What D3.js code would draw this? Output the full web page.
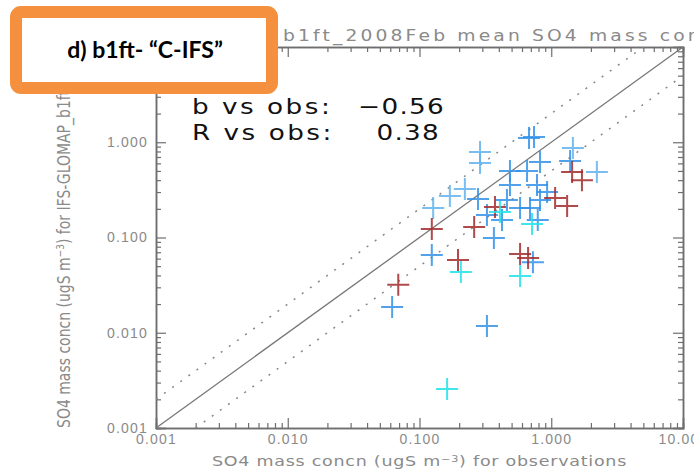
<!DOCTYPE html>
<html>
<head>
<meta charset="utf-8">
<script src="https://cdn.jsdelivr.net/npm/d3@7"></script>
<style>
  html, body { margin: 0; padding: 0; background: #fff; overflow: hidden; }
  svg { display: block; }
</style>
</head>
<body>
<div id="chart"></div>
<script>
const width = 694
const height = 473
const margin = ({ top: 47, right: 11, bottom: 45, left: 156 })

// decade ticks and labels
const majorTicks = [0.001, 0.01, 0.1, 1, 10]
const tickLabels = ['0.001', '0.010', '0.100', '1.000', '10.000']

// stats printed in the corner
const statNames = ['b vs obs:', 'R vs obs:']
const statValues = ['\u22120.56', '0.38']

// points: observed SO4 (x) vs modelled (y), ugS m-3
const redObs = [0.069, 0.124, 0.26, 0.374, 0.196, 0.58, 0.667, 1.07, 1.32, 1.44, 1.71]
const redMod = [0.032, 0.123, 0.129, 0.209, 0.058, 0.067, 0.061, 0.26, 0.214, 0.488, 0.40]

const blueObs = [0.062, 0.124, 0.325, 0.278, 0.325, 0.367, 0.423, 0.461, 0.486, 0.486, 0.58, 0.655,
  0.678, 0.74, 0.69, 0.78, 0.822, 0.822, 0.93, 0.79, 0.726, 1.39]
const blueMod = [0.0186, 0.0655, 0.0118, 0.254, 0.172, 0.099, 0.153, 0.248, 0.499, 0.356, 0.204, 0.499,
  1.11, 1.135, 0.204, 0.356, 0.621, 0.248, 0.30, 0.153, 0.055, 0.635]

const lightObs = [0.127, 0.17, 0.221, 0.288, 0.288, 1.46, 2.22]
const lightMod = [0.204, 0.273, 0.323, 0.791, 0.605, 0.871, 0.488]

const cyanObs = [0.162, 0.206, 0.58, 0.715, 0.408]
const cyanMod = [0.00256, 0.0435, 0.0395, 0.139, 0.185]

const series = [
  { name: 'light', obs: lightObs, mod: lightMod, color: '#62b2ee' },
  { name: 'blue', obs: blueObs, mod: blueMod, color: '#3392e8' },
  { name: 'red', obs: redObs, mod: redMod, color: '#a32a2c' },
  { name: 'cyan', obs: cyanObs, mod: cyanMod, color: '#20e2ea' }
]

const axisGray = '#6e6e6e'
const textGray = '#8a8a8a'
// the original figure is stretched sideways, so horizontal text is too
const stretch = 1.25

let xScale = d3.scaleLog()
  .domain([0.001, 10])
  .range([margin.left, width - margin.right])

let yScale = d3.scaleLog()
  .domain([0.001, 10])
  .range([height - margin.bottom, margin.top])

// minor ticks 2..9 in every decade
let minorTicks = []
majorTicks.slice(0, -1).forEach(m => {
  for (let k = 2; k <= 9; k++) minorTicks.push(m * k)
})

const svg = d3.select('#chart').append('svg')
  .attr('width', width)
  .attr('height', height)
  .style('font-family', 'DejaVu Sans, sans-serif')

const fmt = d => tickLabels[majorTicks.indexOf(d)]

function styleAxis(g) {
  g.select('.domain').attr('stroke', axisGray).attr('stroke-width', 1.5)
  g.selectAll('.tick line').attr('stroke', axisGray).attr('stroke-width', 1.2)
  g.selectAll('.tick text')
    .attr('fill', textGray)
    .style('font-size', '14px')
    .style('letter-spacing', '1.2px')
}

// bottom
svg.append('g')
  .attr('transform', 'translate(0,' + (height - margin.bottom) + ')')
  .call(d3.axisBottom(xScale).tickValues(majorTicks).tickSize(-10).tickPadding(6).tickFormat(fmt))
  .call(styleAxis)
svg.append('g')
  .attr('transform', 'translate(0,' + (height - margin.bottom) + ')')
  .call(d3.axisBottom(xScale).tickValues(minorTicks).tickSize(-5).tickFormat(''))
  .call(styleAxis)

// top
svg.append('g')
  .attr('transform', 'translate(0,' + margin.top + ')')
  .call(d3.axisTop(xScale).tickValues(majorTicks).tickSize(-10).tickFormat(''))
  .call(styleAxis)
svg.append('g')
  .attr('transform', 'translate(0,' + margin.top + ')')
  .call(d3.axisTop(xScale).tickValues(minorTicks).tickSize(-5).tickFormat(''))
  .call(styleAxis)

// left
svg.append('g')
  .attr('transform', 'translate(' + margin.left + ',0)')
  .call(d3.axisLeft(yScale).tickValues(majorTicks).tickSize(-10).tickPadding(8).tickFormat(fmt))
  .call(styleAxis)
svg.append('g')
  .attr('transform', 'translate(' + margin.left + ',0)')
  .call(d3.axisLeft(yScale).tickValues(minorTicks).tickSize(-5).tickFormat(''))
  .call(styleAxis)

// right
svg.append('g')
  .attr('transform', 'translate(' + (width - margin.right) + ',0)')
  .call(d3.axisRight(yScale).tickValues(majorTicks).tickSize(-10).tickFormat(''))
  .call(styleAxis)
svg.append('g')
  .attr('transform', 'translate(' + (width - margin.right) + ',0)')
  .call(d3.axisRight(yScale).tickValues(minorTicks).tickSize(-5).tickFormat(''))
  .call(styleAxis)

// 1:1 and factor-of-2 lines
const lineGen = d3.line().x(d => xScale(d[0])).y(d => yScale(d[1]))
svg.append('path')
  .attr('d', lineGen([[0.001, 0.001], [10, 10]]))
  .attr('stroke', '#777').attr('stroke-width', 1.3).attr('fill', 'none')
svg.append('path')
  .attr('d', lineGen([[0.001, 0.002], [5, 10]]))
  .attr('stroke', '#888').attr('stroke-width', 1.5).attr('stroke-dasharray', '2,8').attr('fill', 'none')
svg.append('path')
  .attr('d', lineGen([[0.002, 0.001], [10, 5]]))
  .attr('stroke', '#888').attr('stroke-width', 1.5).attr('stroke-dasharray', '2,8').attr('fill', 'none')

// crosses
const arm = 11
series.forEach(s => {
  svg.append('g')
    .attr('stroke', s.color)
    .attr('stroke-width', 2)
    .attr('stroke-opacity', 0.85)
    .attr('fill', 'none')
    .selectAll('path')
    .data(s.obs.map((o, i) => [o, s.mod[i]]))
    .enter().append('path')
    .attr('d', d => {
      let cx = xScale(d[0]), cy = yScale(d[1])
      return 'M' + (cx - arm) + ',' + cy + 'h' + (2 * arm) + 'M' + cx + ',' + (cy - arm) + 'v' + (2 * arm)
    })
})

// stats
statNames.forEach((t, i) => {
  svg.append('text')
    .attr('transform', 'translate(192,' + (114 + i * 26) + ') scale(' + stretch + ',1)')
    .style('font-size', '21px').style('letter-spacing', '2px')
    .attr('fill', '#111')
    .text(t)
  svg.append('text')
    .attr('transform', 'translate(' + (445 - i * 5) + ',' + (114 + i * 26) + ') scale(' + stretch + ',1)')
    .attr('text-anchor', 'end')
    .style('font-size', '21px').style('letter-spacing', '1px')
    .attr('fill', '#111')
    .text(statValues[i])
})

// axis titles
const xTitle = svg.append('text')
  .attr('transform', 'translate(' + ((margin.left + width - margin.right) / 2) + ',466) scale(' + stretch + ',1)')
  .attr('text-anchor', 'middle')
  .attr('fill', textGray)
  .style('font-size', '14px').style('letter-spacing', '0.6px')
xTitle.append('tspan').text('SO4 mass concn (ugS m')
xTitle.append('tspan').attr('baseline-shift', 'super').style('font-size', '9px').text('\u22123')
xTitle.append('tspan').text(') for observations')

const yTitle = svg.append('text')
  .attr('transform', 'translate(70,' + (height - margin.bottom) + ') rotate(-90) scale(1,' + stretch + ')')
  .attr('text-anchor', 'start')
  .attr('fill', textGray)
  .style('font-size', '14px')
yTitle.append('tspan').text('SO4 mass concn (ugS m')
yTitle.append('tspan').attr('baseline-shift', 'super').style('font-size', '9px').text('\u22123')
yTitle.append('tspan').text(') for IFS-GLOMAP_b1ft')

// plot title (partly under the label box)
svg.append('text')
  .attr('transform', 'translate(283,41) scale(' + stretch + ',1)')
  .attr('fill', textGray)
  .style('font-size', '15px').style('letter-spacing', '2.5px')
  .text('b1ft_2008Feb mean SO4 mass concn')

// orange panel label
svg.append('rect')
  .attr('x', 16).attr('y', 12)
  .attr('width', 256).attr('height', 76)
  .attr('rx', 5)
  .attr('fill', '#fff')
  .attr('stroke', '#f5913e')
  .attr('stroke-width', 12)
svg.append('text')
  .attr('x', 145).attr('y', 58)
  .attr('text-anchor', 'middle')
  .attr('fill', '#000')
  .style('font-family', 'Lato, sans-serif')
  .style('font-weight', 700)
  .style('font-size', '23px')
  .text('d) b1ft- \u201cC-IFS\u201d')
</script>
</body>
</html>
